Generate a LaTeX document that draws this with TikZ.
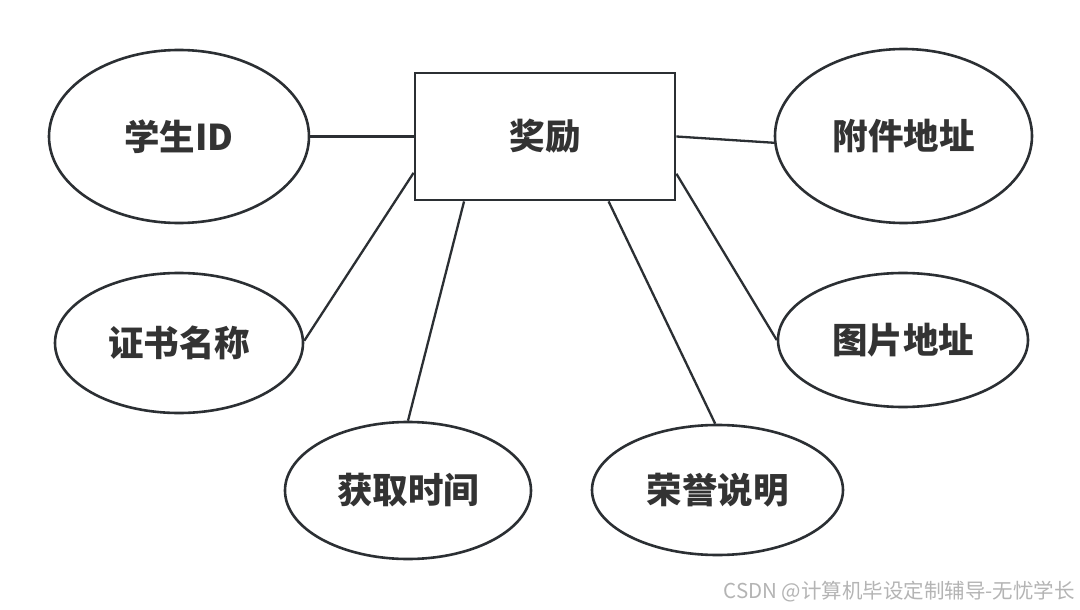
\documentclass[tikz,border=0pt]{standalone}
\usepackage{fontspec}
\newfontfamily\cjk{Noto Sans CJK SC}
\usetikzlibrary{shapes.geometric,calc}
\definecolor{edgecol}{HTML}{2B2F33}
\definecolor{txtcol}{HTML}{333333}
\definecolor{wmcol}{HTML}{B4B4B4}
\begin{document}
\begin{tikzpicture}[x=1pt,y=-1pt,
  attr/.style={ellipse,draw=edgecol,line width=2.6pt,fill=white,inner sep=0pt,
    font=\cjk\bfseries\fontsize{35.5}{40}\selectfont,text=txtcol},
  entity/.style={rectangle,draw=edgecol,line width=2.8pt,fill=white,inner sep=0pt,
    minimum width=260pt,minimum height=127pt,
    font=\cjk\bfseries\fontsize{35.5}{40}\selectfont,text=txtcol},
  link/.style={draw=edgecol,line width=2.3pt}]
\useasboundingbox[fill=white] (0,0) rectangle (1080,610);
\node[entity] (r) at (545,136.5) {奖励};
\node[attr,minimum width=260pt,minimum height=173pt] (s) at (179,136.5) {学生ID};
\node[attr,minimum width=257pt,minimum height=174pt] (f) at (903.5,136) {附件地址};
\node[attr,minimum width=248pt,minimum height=140pt] (z) at (179,343) {证书名称};
\node[attr,minimum width=250pt,minimum height=134pt] (p) at (903,340) {图片地址};
\node[attr,minimum width=246pt,minimum height=137pt] (h) at (408,490.5) {获取时间};
\node[attr,minimum width=251pt,minimum height=130pt] (y) at (717.5,490) {荣誉说明};
\node[font=\cjk\fontsize{20.5}{24}\selectfont,text=wmcol,anchor=east,inner sep=0pt] (wm) at (1075,592) {CSDN @计算机毕设定制辅导-无忧学长};
\draw[link] (s.east) -- (r.west);
\draw[link] (r.east) -- (f.183);
\draw[link] (z.1) -- ($(r.north west)!0.78!(r.south west)$);
\draw[link] ($(r.north east)!0.787!(r.south east)$) -- (p.west);
\draw[link] ($(r.south west)!0.192!(r.south east)$) -- (h.north);
\draw[link] ($(r.south west)!0.742!(r.south east)$) -- (y.92);
\end{tikzpicture}
\end{document}
